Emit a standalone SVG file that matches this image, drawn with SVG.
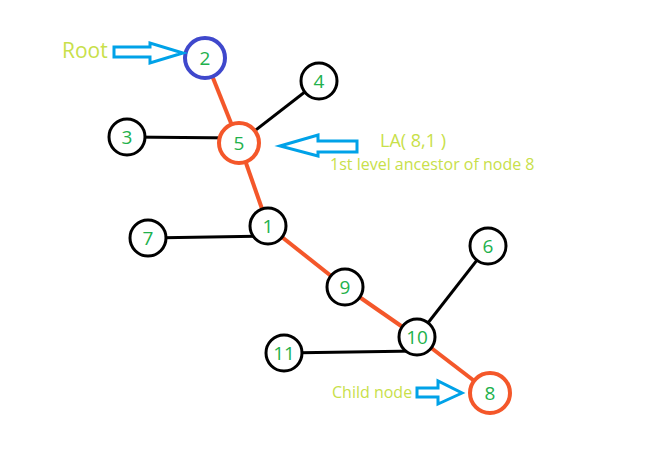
<svg xmlns="http://www.w3.org/2000/svg" width="665" height="474" viewBox="0 0 665 474">
<style>
.n{fill:#fff;stroke:#000;stroke-width:3}
.hl{stroke:#f4572a;stroke-width:4}
.rt{stroke:#3f48cc;stroke-width:4}
.e{stroke:#000;stroke-width:3;fill:none}
.eo{stroke:#f4572a;stroke-width:4;fill:none}
.t{font-family:"Open Sans","DejaVu Sans",sans-serif;font-size:19px;fill:#22b14c;text-anchor:middle}
.l{font-family:"Open Sans","DejaVu Sans",sans-serif;fill:#c8e04a}
.a{fill:#fff;stroke:#00a2e8;stroke-width:3}
</style>
<rect width="665" height="474" fill="#fff"/>
<g id="connectors">
<line class="e" x1="239" y1="143" x2="319" y2="81"/>
<line class="e" x1="127" y1="137" x2="239" y2="138"/>
<line class="e" x1="148" y1="238" x2="268" y2="236"/>
<line class="e" x1="488" y1="246" x2="417" y2="337"/>
<line class="e" x1="284" y1="353" x2="417" y2="351"/>
<line class="eo" x1="205" y1="58" x2="239" y2="143"/>
<line class="eo" x1="239" y1="143" x2="268" y2="226"/>
<line class="eo" x1="268" y1="226" x2="345" y2="287"/>
<line class="eo" x1="345" y1="287" x2="417" y2="337"/>
<line class="eo" x1="417" y1="337" x2="490" y2="393"/>
</g>
<g id="n2"><circle class="n rt" cx="205" cy="58" r="20"/><text class="t" x="205" y="65">2</text></g>
<g id="n4"><circle class="n" cx="319" cy="81" r="18"/><text class="t" x="319" y="88">4</text></g>
<g id="n3"><circle class="n" cx="127" cy="137" r="18"/><text class="t" x="127" y="144">3</text></g>
<g id="n5"><circle class="n hl" cx="239" cy="143" r="20"/><text class="t" x="239" y="150">5</text></g>
<g id="n1"><circle class="n" cx="268" cy="226" r="18"/><text class="t" x="268" y="233">1</text></g>
<g id="n7"><circle class="n" cx="148" cy="238" r="18"/><text class="t" x="148" y="245">7</text></g>
<g id="n9"><circle class="n" cx="345" cy="287" r="18"/><text class="t" x="345" y="294">9</text></g>
<g id="n6"><circle class="n" cx="488" cy="246" r="18"/><text class="t" x="488" y="253">6</text></g>
<g id="n10"><circle class="n" cx="417" cy="337" r="18"/><text class="t" x="417" y="344">10</text></g>
<g id="n11"><circle class="n" cx="284" cy="353" r="18"/><text class="t" x="284" y="360">11</text></g>
<g id="n8"><circle class="n hl" cx="490" cy="393" r="20"/><text class="t" x="490" y="400">8</text></g>
<g id="labels">
<text class="l" x="62" y="58" font-size="21">Root</text>
<polygon class="a" points="114,47 150,47 150,43 183,53 150,63 150,57 114,57"/>
<text class="l" x="380" y="147" font-size="18">LA( 8,1 )</text>
<text class="l" x="330" y="170" font-size="16">1st level ancestor of node 8</text>
<polygon class="a" points="357,141 318,141 318,135 280,146 318,156 318,152 357,152"/>
<text class="l" x="332" y="398" font-size="16">Child node</text>
<polygon class="a" points="417,388 438,388 438,381 462,393 438,404 438,397 417,397"/>
</g>
</svg>
